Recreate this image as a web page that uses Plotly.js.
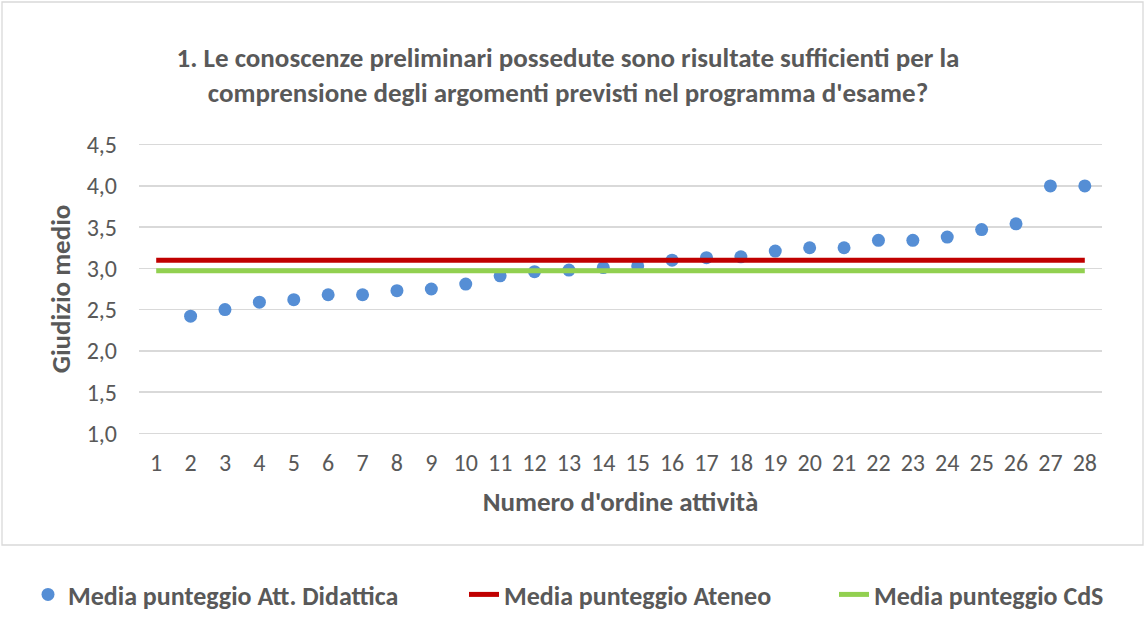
<!DOCTYPE html>
<html>
<head>
<meta charset="utf-8">
<script src="https://cdn.plot.ly/plotly-3.0.1.min.js"></script>
<style>html,body{margin:0;padding:0;background:#fff;}#chart{width:1146px;height:618px;}</style>
</head>
<body>
<div id="chart"></div>
<script>
// Data
const activityIndex = [2,3,4,5,6,7,8,9,10,11,12,13,14,15,16,17,18,19,20,21,22,23,24,25,26,27,28];
const mediaAttDidattica = [2.42,2.50,2.59,2.62,2.68,2.68,2.73,2.75,2.81,2.91,2.96,2.98,3.01,3.03,3.10,3.13,3.14,3.21,3.25,3.25,3.34,3.34,3.38,3.47,3.54,4.00,4.00];
const lineX = [1, 28];
const mediaAteneo = [3.10, 3.10];
const mediaCdS = [2.97, 2.97];
const xTicks = [1,2,3,4,5,6,7,8,9,10,11,12,13,14,15,16,17,18,19,20,21,22,23,24,25,26,27,28];
const yTicks = [1.0,1.5,2.0,2.5,3.0,3.5,4.0,4.5];
const yTickLabels = ["1,0","1,5","2,0","2,5","3,0","3,5","4,0","4,5"];

const FONT = "Carlito, Calibri, Lato, 'Open Sans', sans-serif";
const GRAY = "#595959";

const traces = [
  {
    x: activityIndex, y: mediaAttDidattica, type: 'scatter', mode: 'markers',
    name: 'Media punteggio Att. Didattica',
    marker: {color: '#558ED5', size: 13},
    legend: 'legend'
  },
  {
    x: lineX, y: mediaAteneo, type: 'scatter', mode: 'lines',
    name: 'Media punteggio Ateneo',
    line: {color: '#C00000', width: 5},
    legend: 'legend2'
  },
  {
    x: lineX, y: mediaCdS, type: 'scatter', mode: 'lines',
    name: 'Media punteggio CdS',
    line: {color: '#92D050', width: 5},
    legend: 'legend3'
  }
];

const L = 139, R = 44, T = 143, B = 183;
const W = 1146, H = 618;
const pw = W - L - R, ph = H - T - B;
const px = v => (v - L) / pw;
const py = v => (H - B - v) / ph;

const legendFont = {family: FONT, size: 26, color: GRAY, weight: 'bold'};
const legendBase = {orientation: 'h', xref: 'container', yref: 'container', yanchor: 'bottom', xanchor: 'left',
  font: legendFont, bgcolor: 'rgba(0,0,0,0)', borderwidth: 0, y: -5 / H};

const layout = {
  width: W, height: H,
  margin: {l: L, r: R, t: T, b: B},
  paper_bgcolor: '#fff', plot_bgcolor: '#fff',
  font: {family: FONT, color: GRAY},
  separators: ',.',
  title: {
    text: '<b>1. Le conoscenze preliminari possedute sono risultate sufficienti per la<br>comprensione degli argomenti previsti nel programma d\'esame?</b>',
    font: {family: FONT, size: 27, color: GRAY},
    x: 568 / W, xanchor: 'center',
    y: 1 - 67 / H, yanchor: 'top'
  },
  xaxis: {
    range: [0.5, 28.5], tickmode: 'array', tickvals: xTicks,
    showgrid: false, zeroline: false, showline: false, ticks: '',
    tickfont: {family: FONT, size: 24, color: GRAY},
    ticklabelstandoff: 11,
    title: {text: "<b>Numero d'ordine attività</b>", font: {family: FONT, size: 27, color: GRAY}, standoff: 16},
    fixedrange: true
  },
  yaxis: {
    range: [0.98, 4.52], tickmode: 'array', tickvals: yTicks, ticktext: yTickLabels,
    showgrid: true, gridcolor: '#D9D9D9', gridwidth: 1.3, zeroline: false, showline: false, ticks: '',
    tickfont: {family: FONT, size: 24, color: GRAY},
    ticklabelstandoff: 21,
    title: {text: '<b>Giudizio medio</b>', font: {family: FONT, size: 27, color: GRAY}, standoff: 8},
    fixedrange: true
  },
  showlegend: true,
  legend: Object.assign({}, legendBase, {x: 28 / W}),
  legend2: Object.assign({}, legendBase, {x: 464 / W}),
  legend3: Object.assign({}, legendBase, {x: 834 / W}),
  shapes: [
    {type: 'rect', xref: 'paper', yref: 'paper', x0: px(2), x1: px(1143), y0: py(545), y1: py(2),
     line: {color: '#D9D9D9', width: 1.3}, fillcolor: 'rgba(0,0,0,0)', layer: 'below'}
  ]
};

Plotly.newPlot('chart', traces, layout, {displayModeBar: false, staticPlot: true});
</script>
</body>
</html>
